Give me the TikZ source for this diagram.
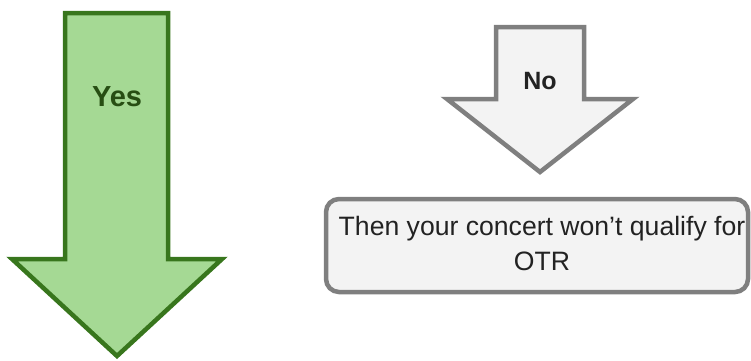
\documentclass[tikz,border=0pt]{standalone}
\usepackage{fontspec}
\setmainfont{Liberation Sans}
\definecolor{gfill}{HTML}{A5D994}
\definecolor{gline}{HTML}{38761D}
\definecolor{gtext}{HTML}{274E13}
\definecolor{ffill}{HTML}{F3F3F3}
\definecolor{fline}{HTML}{7F7F7F}
\definecolor{ftext}{HTML}{222222}
\tikzset{
  greenarrow/.style={fill=gfill, draw=gline, line width=4.5pt, line join=miter},
  grayarrow/.style={fill=ffill, draw=fline, line width=4.5pt, line join=miter},
  msgbox/.style={fill=ffill, draw=fline, line width=4.5pt, rounded corners=13pt},
}
\begin{document}
\begin{tikzpicture}[x=1pt,y=-1pt]
\useasboundingbox (0,0) rectangle (751,360);
% green Yes arrow
\draw[greenarrow] (65,13) -- (168,13) -- (168,259) -- (222,259) -- (117,356) -- (12,259) -- (65,259) -- cycle;
\node[text=gtext, font=\fontsize{29}{32}\selectfont\bfseries] (yes) at (117,97) {Yes};
% gray No arrow
\draw[grayarrow] (496,27) -- (584,27) -- (584,99) -- (633,99) -- (540,172) -- (447,99) -- (496,99) -- cycle;
\node[text=ftext, font=\fontsize{25}{30}\selectfont\bfseries] (no) at (540,81) {No};
% result box
\draw[msgbox] (326,199) rectangle (748,292);
\node[text=ftext, font=\fontsize{26.6}{35}\selectfont, align=center] (msg) at (542,243) {Then your concert won’t qualify for\\OTR};
\end{tikzpicture}
\end{document}
